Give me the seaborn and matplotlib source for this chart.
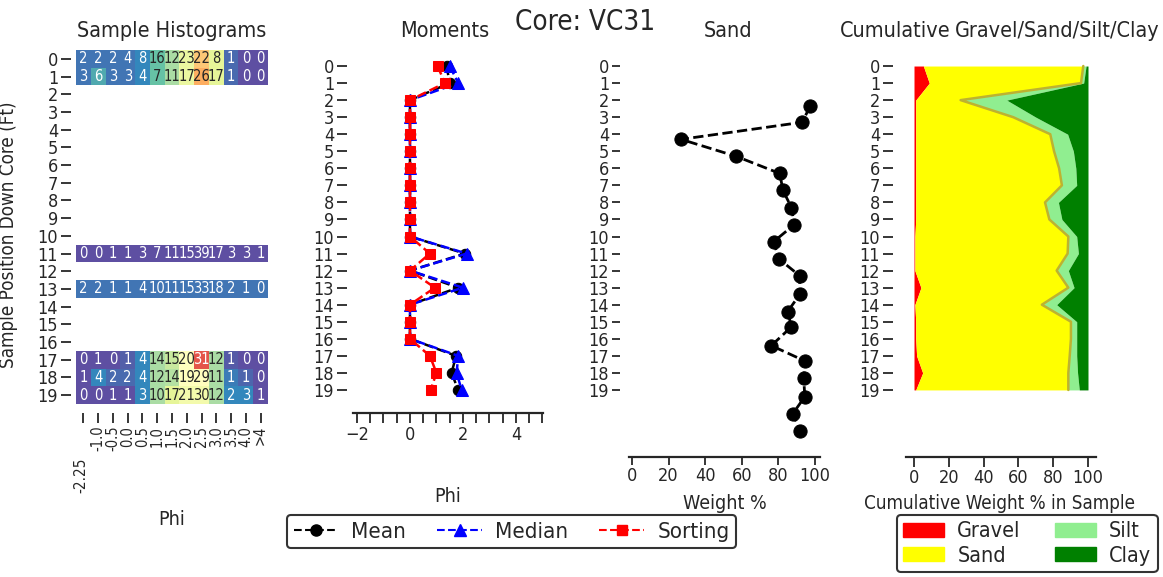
import numpy as np
import pandas as pd
import matplotlib
matplotlib.use("Agg")
import matplotlib.pyplot as plt
import seaborn as sns
from matplotlib.lines import Line2D
from matplotlib.patches import Patch
from matplotlib.ticker import MultipleLocator

# ---------------------------------------------------------------- data
depth = list(range(20))
phi_labels = ["-2.25", "-1.0", "-0.5", "0.0", "0.5", "1.0", "1.5",
              "2.0", "2.5", "3.0", "3.5", "4.0", ">4"]

# weight % in each phi class for the sampled intervals
hist_pct = {
    0:  [2, 2, 2, 4, 8, 16, 12, 23, 22, 8, 1, 0, 0],
    1:  [3, 6, 3, 3, 4, 7, 11, 17, 26, 17, 1, 0, 0],
    11: [0, 0, 1, 1, 3, 7, 11, 15, 39, 17, 3, 3, 1],
    13: [2, 2, 1, 1, 4, 10, 11, 15, 33, 18, 2, 1, 0],
    17: [0, 1, 0, 1, 4, 14, 15, 20, 31, 12, 1, 0, 0],
    18: [1, 4, 2, 2, 4, 12, 14, 19, 29, 11, 1, 1, 0],
    19: [0, 0, 1, 1, 3, 10, 17, 21, 30, 12, 2, 3, 1],
}
# shading level (0-1) of each histogram cell
hist_shade = {
    0:  [0.07, 0.07, 0.07, 0.07, 0.10, 0.20, 0.30, 0.42, 0.65, 0.40, 0.05, 0.0, 0.0],
    1:  [0.07, 0.16, 0.07, 0.07, 0.10, 0.20, 0.30, 0.42, 0.70, 0.40, 0.05, 0.0, 0.0],
    11: [0.0] * 13,
    13: [0.07] * 13,
    17: [0.0, 0.0, 0.0, 0.03, 0.10, 0.30, 0.35, 0.50, 0.85, 0.30, 0.02, 0.0, 0.0],
    18: [0.0, 0.10, 0.05, 0.05, 0.10, 0.30, 0.32, 0.50, 0.50, 0.30, 0.08, 0.04, 0.0],
    19: [0.0, 0.0, 0.0, 0.0, 0.10, 0.30, 0.40, 0.45, 0.45, 0.30, 0.10, 0.10, 0.0],
}

mean_phi    = [1.38, 1.50, 0, 0, 0, 0, 0, 0, 0, 0, 0, 2.07, 0, 1.82, 0, 0, 0, 1.74, 1.57, 1.82]
median_phi  = [1.50, 1.82, 0, 0, 0, 0, 0, 0, 0, 0, 0, 2.14, 0, 2.00, 0, 0, 0, 1.82, 1.76, 1.95]
sorting_phi = [1.04, 1.32, 0, 0, 0, 0, 0, 0, 0, 0, 0, 0.75, 0, 0.94, 0, 0, 0, 0.75, 1.00, 0.78]

sand_weight = [97.4, 92.9, 26.8, 57.0, 80.7, 82.5, 87.1, 88.7, 77.4, 80.1,
               91.6, 91.6, 85.1, 87.1, 76.1, 94.4, 93.8, 94.4, 87.8, 92.0]
sand_depth = [2.35, 3.3, 4.3, 5.3, 6.3, 7.3, 8.3, 9.3, 10.3, 11.3,
              12.3, 13.4, 14.4, 15.3, 16.4, 17.3, 18.3, 19.4, 20.4, 21.4]

gravel_pct = [5.4, 8.8, 1.0, 1.0, 1.0, 1.0, 1.0, 1.0, 1.0, 1.0,
              0.5, 0.5, 0.5, 4.0, 0.5, 1.0, 1.0, 1.5, 5.0, 1.0]
sand_pct   = [91.9, 87.2, 25.8, 56.0, 77.3, 79.5, 82.4, 84.0, 74.3, 76.8,
              88.2, 87.8, 81.5, 84.7, 73.0, 89.2, 89.2, 88.0, 83.7, 87.7]
silt_pct   = [1.6, 1.5, 26.5, 13.0, 10.0, 11.1, 9.6, 8.5, 7.7, 7.2,
              4.8, 6.2, 6.7, 3.3, 8.5, 3.3, 3.3, 4.0, 5.3, 6.3]
clay_pct   = [1.1, 2.5, 46.7, 30.0, 11.7, 8.4, 7.0, 6.5, 17.0, 15.0,
              6.5, 5.5, 11.3, 8.0, 18.0, 6.5, 6.5, 6.5, 6.0, 5.0]

# ---------------------------------------------------------------- style
sns.set_theme(style="ticks")
plt.rcParams["font.family"] = ["DejaVu Sans"]
plt.rcParams["font.stretch"] = "condensed"
INK = "#262626"

W, H = 1163, 577
fig = plt.figure(figsize=(W / 100, H / 100), dpi=100)
PT = 72 / 100  # points per pixel


def place(x0, y0, x1, y1):
    return fig.add_axes([x0 / W, 1 - y1 / H, (x1 - x0) / W, (y1 - y0) / H])


def frame(ax, left_out, bottom_out, tick_len=10):
    for side in ("top", "right", "left"):
        ax.spines[side].set_visible(False)
    ax.spines["left"].set_position(("outward", left_out * PT))
    ax.spines["bottom"].set_position(("outward", bottom_out * PT))
    ax.spines["bottom"].set_color(INK)
    ax.spines["bottom"].set_linewidth(1.6)
    ax.tick_params(axis="both", which="both", direction="out", left=True, bottom=True,
                   length=tick_len * PT, width=1.3, color=INK, labelcolor=INK,
                   labelsize=13, pad=2)


def label_at(ax, which, text, px, py, size=14, **kw):
    bb = ax.get_position()
    ax_x = (px / W - bb.x0) / bb.width
    ax_y = ((1 - py / H) - bb.y0) / bb.height
    if which == "x":
        ax.set_xlabel(text, fontsize=size, color=INK, **kw)
        ax.xaxis.set_label_coords(ax_x, ax_y)
    else:
        ax.set_ylabel(text, fontsize=size, color=INK, **kw)
        ax.yaxis.set_label_coords(ax_x, ax_y)


# ---------------------------------------------------------------- histograms
shade = pd.DataFrame(np.nan, index=depth, columns=phi_labels)
pct = pd.DataFrame(np.nan, index=depth, columns=phi_labels)
for d in hist_pct:
    shade.loc[d] = hist_shade[d]
    pct.loc[d] = hist_pct[d]

ax_h = place(76, 50, 268, 404)
sns.heatmap(shade, ax=ax_h, cmap="Spectral_r", vmin=0, vmax=1, cbar=False,
            annot=pct.values, fmt=".0f", annot_kws={"size": 10.5},
            xticklabels=True, yticklabels=True)
frame(ax_h, 5, 9)
ax_h.set_yticklabels([str(d) for d in depth], rotation=0)
ax_h.set_xticklabels([""] + phi_labels[1:], rotation=90, fontsize=10.5)
first = ax_h.text(0.35, -0.15, phi_labels[0], transform=ax_h.get_xaxis_transform(),
                  rotation=90, ha="center", va="top", fontsize=11, color=INK)
label_at(ax_h, "x", "Phi", 172, 510)
label_at(ax_h, "y", "Sample Position Down Core (Ft)", 18, 235, size=13.5)

# ---------------------------------------------------------------- moments
ax_m = place(353, 57.5, 543, 407)
sns.lineplot(x=mean_phi, y=depth, sort=False, estimator=None, ax=ax_m,
             color="black", marker="o", ms=7.5, mec="black", lw=1.8, linestyle="--")
sns.lineplot(x=median_phi, y=depth, sort=False, estimator=None, ax=ax_m,
             color="#0000ff", marker="^", ms=8, mec="#0000ff", lw=1.8, linestyle="--")
sns.lineplot(x=sorting_phi, y=depth, sort=False, estimator=None, ax=ax_m,
             color="#ff0000", marker="s", ms=7, mec="#ff0000", lw=1.8, linestyle="--")
ax_m.set_xlim(-2.15, 5.02)
ax_m.set_ylim(20, -0.5)
ax_m.set_yticks(depth)
ax_m.set_xticks([-2, 0, 2, 4])
ax_m.xaxis.set_minor_locator(MultipleLocator(0.5))
frame(ax_m, 6, 6)
label_at(ax_m, "x", "Phi", 448, 487)
ax_m.set_ylabel("")

# ---------------------------------------------------------------- sand
ax_s = place(629, 57.5, 820, 449.6)
sns.lineplot(x=sand_weight, y=sand_depth, sort=False, estimator=None, ax=ax_s,
             color="black", marker="o", ms=9.5, mec="black", lw=2, linestyle="--")
ax_s.set_xlim(-1.6, 102.7)
ax_s.set_ylim(22.5, -0.5)
ax_s.set_yticks(depth)
ax_s.set_xticks([0, 20, 40, 60, 80, 100])
frame(ax_s, 9, 7, tick_len=8)
label_at(ax_s, "x", "Weight %", 725, 494)

# ---------------------------------------------------------------- cumulative
ax_c = place(906, 57.5, 1096, 449.6)
g = np.array(gravel_pct)
gs = g + np.array(sand_pct)
gss = gs + np.array(silt_pct)
gssc = gss + np.array(clay_pct)
ax_c.fill_betweenx(depth, 0, g, color="#ff0000", lw=0)
ax_c.fill_betweenx(depth, g, gs, color="#ffff00", lw=0)
ax_c.fill_betweenx(depth, gs, gss, color="#90ee90", lw=0)
ax_c.fill_betweenx(depth, gss, gssc, color="#008000", lw=0)
ax_c.plot(gs, depth, color="#bdb230", lw=1.8)
ax_c.set_xlim(-4.6, 104.6)
ax_c.set_ylim(22.5, -0.5)
ax_c.set_yticks(depth)
ax_c.set_xticks([0, 20, 40, 60, 80, 100])
frame(ax_c, 13, 7)
label_at(ax_c, "x", "Cumulative Weight % in Sample", 1000, 494, size=13.5)

# ---------------------------------------------------------------- titles
fig.text(585 / W, 1 - 22 / H, "Core: VC31", ha="center", va="center", fontsize=20, color=INK)
for txt, x in [("Sample Histograms", 172), ("Moments", 445), ("Sand", 728),
               ("Cumulative", 895), ("Gravel/Sand/Silt/Clay", 1057)]:
    fig.text(x / W, 1 - 31 / H, txt, ha="center", va="center", fontsize=15.5, color=INK)

# ---------------------------------------------------------------- legends
mom_handles = [
    Line2D([], [], color="black", ls="--", marker="o", ms=8, lw=1.5),
    Line2D([], [], color="#0000ff", ls="--", marker="^", ms=8, lw=1.5),
    Line2D([], [], color="#ff0000", ls="--", marker="s", ms=7, lw=1.5),
]
leg1 = fig.legend(mom_handles, ["Mean", "Median", "Sorting"], loc="upper left",
                  bbox_to_anchor=(287 / W, 1 - 515 / H), ncol=3, fontsize=16,
                  handlelength=2.0, handletextpad=0.6, columnspacing=1.4,
                  borderaxespad=0, frameon=True, fancybox=True,
                  edgecolor="black", borderpad=0.3)
leg1.get_frame().set_linewidth(1.5)

comp_handles = [Patch(color="#ff0000"), Patch(color="#ffff00"),
                Patch(color="#90ee90"), Patch(color="#008000")]
leg2 = fig.legend(comp_handles, ["Gravel", "Sand", "Silt", "Clay"], loc="upper left",
                  bbox_to_anchor=(897 / W, 1 - 515 / H), ncol=2, fontsize=15.5,
                  handlelength=1.9, handleheight=0.6, handletextpad=0.6,
                  columnspacing=1.6, labelspacing=0.2, borderaxespad=0,
                  frameon=True, fancybox=True, edgecolor="black", borderpad=0.3)
leg2.get_frame().set_linewidth(1.5)

fig.savefig("out.png", dpi=100)
